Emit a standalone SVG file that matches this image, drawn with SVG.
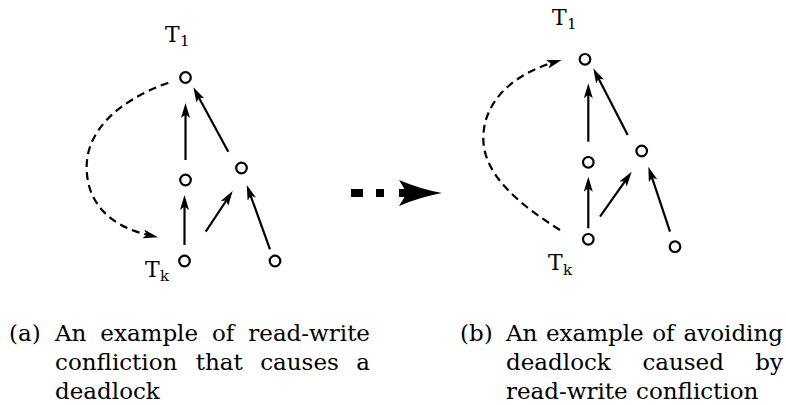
<svg xmlns="http://www.w3.org/2000/svg" width="786" height="405" viewBox="0 0 786 405">
<style>
.node{fill:#fff;stroke:#000;stroke-width:2.2}
.edge{fill:none;stroke:#000;stroke-width:2.2}
.dash{fill:none;stroke:#000;stroke-width:2.2;stroke-dasharray:8 5}
.lbl{font-family:"DejaVu Serif","Liberation Serif",serif;font-size:22px;fill:#000}
.sub{font-family:"DejaVu Serif","Liberation Serif",serif;font-size:15px;fill:#000}
.cap{font-family:"DejaVu Serif","Liberation Serif",serif;font-size:23px;fill:#000}
</style>
<defs>
<marker id="ah" markerUnits="userSpaceOnUse" viewBox="0 0 15 9" markerWidth="15" markerHeight="9" refX="6" refY="4.5" orient="auto">
<path d="M0,0 L15,4.5 L0,9 L3.5,4.5 Z" fill="#000"/>
</marker>
</defs>
<rect width="786" height="405" fill="#fff"/>

<g id="connectors">
<line class="edge" x1="185.5" y1="160" x2="185.5" y2="112" marker-end="url(#ah)"/>
<line class="edge" x1="228.3" y1="151.7" x2="197.6" y2="95.2" marker-end="url(#ah)"/>
<line class="edge" x1="184.5" y1="245" x2="184.5" y2="204" marker-end="url(#ah)"/>
<line class="edge" x1="205.7" y1="231.7" x2="227.7" y2="198.5" marker-end="url(#ah)"/>
<line class="edge" x1="270" y1="249.3" x2="249.8" y2="193.5" marker-end="url(#ah)"/>
<path class="dash" d="M168.3,82.7 C120,100 85,130 86.7,170 C88,205 112,227 149.2,235.2" marker-end="url(#ah)"/>
<line class="edge" x1="588.3" y1="141.7" x2="588.3" y2="92.3" marker-end="url(#ah)"/>
<line class="edge" x1="627.7" y1="135" x2="597.4" y2="76.3" marker-end="url(#ah)"/>
<line class="edge" x1="588.3" y1="228.3" x2="588.3" y2="185.7" marker-end="url(#ah)"/>
<line class="edge" x1="600" y1="216.7" x2="626.5" y2="179.1" marker-end="url(#ah)"/>
<line class="edge" x1="670" y1="231.7" x2="651.2" y2="175.2" marker-end="url(#ah)"/>
<path class="dash" d="M560,230 C520,205 483,175 483.3,138 C483.5,100 515,74 553,62.5" marker-end="url(#ah)"/>
<rect x="351" y="189" width="12" height="8" fill="#000"/>
<rect x="376" y="189" width="8" height="8" fill="#000"/>
<rect x="399" y="189" width="9" height="8" fill="#000"/>
<path d="M399,180 Q420,189 442,193 Q420,197 399,206 L407,193 Z" fill="#000"/>
</g>

<g id="a-T1"><circle class="node" cx="185.5" cy="77.5" r="5.3"/><text class="lbl" x="165" y="42">T</text><text class="sub" x="180" y="46">1</text></g>
<g id="a-n2"><circle class="node" cx="185.5" cy="180" r="5.3"/></g>
<g id="a-n3"><circle class="node" cx="241.5" cy="168" r="5.3"/></g>
<g id="a-Tk"><circle class="node" cx="184.5" cy="261" r="5.3"/><text class="lbl" x="145" y="277">T</text><text class="sub" x="160" y="281">k</text></g>
<g id="a-n5"><circle class="node" cx="275" cy="261" r="5.3"/></g>

<g id="b-T1"><circle class="node" cx="585" cy="59.3" r="5.3"/><text class="lbl" x="552" y="25">T</text><text class="sub" x="567" y="29">1</text></g>
<g id="b-n2"><circle class="node" cx="588.3" cy="162.3" r="5.3"/></g>
<g id="b-n3"><circle class="node" cx="641.7" cy="151" r="5.3"/></g>
<g id="b-Tk"><circle class="node" cx="588.3" cy="239.3" r="5.3"/><text class="lbl" x="548" y="270">T</text><text class="sub" x="563" y="275">k</text></g>
<g id="b-n5"><circle class="node" cx="675" cy="246.7" r="5.3"/></g>

<g id="caption-a">
<text class="cap" x="9" y="341">(a)</text>
<text class="cap" x="55" y="341">An</text>
<text class="cap" x="100.3" y="341">example</text>
<text class="cap" x="212" y="341">of</text>
<text class="cap" x="370" y="341" text-anchor="end">read-write</text>
<text class="cap" x="55" y="370">confliction</text>
<text class="cap" x="195.8" y="370">that</text>
<text class="cap" x="260.2" y="370">causes</text>
<text class="cap" x="370" y="370" text-anchor="end">a</text>
<text class="cap" x="55" y="399">deadlock</text>
</g>

<g id="caption-b">
<text class="cap" x="460" y="341">(b)</text>
<text class="cap" x="506" y="341">An</text>
<text class="cap" x="545.9" y="341">example</text>
<text class="cap" x="652.2" y="341">of</text>
<text class="cap" x="783" y="341" text-anchor="end">avoiding</text>
<text class="cap" x="506" y="370">deadlock</text>
<text class="cap" x="642.4" y="370">caused</text>
<text class="cap" x="783" y="370" text-anchor="end">by</text>
<text class="cap" x="506" y="399">read-write</text>
<text class="cap" x="636" y="399">confliction</text>
</g>
</svg>
